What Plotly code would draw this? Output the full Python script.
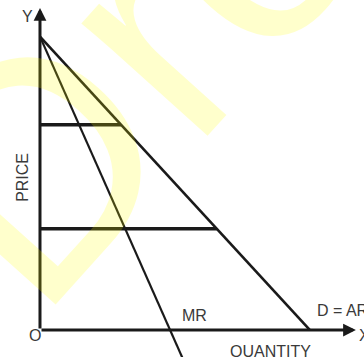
import plotly.graph_objects as go

# Demand (average revenue) curve: price intercept and quantity intercept
demand_q = [0, 10]
demand_p = [10, 0]

# Marginal revenue curve, continuing below the quantity axis
mr_q = [0, 5.3]
mr_p = [10, -1.0]

# Two price levels, each drawn from the price axis across to the demand curve
price_levels = [7.0, 3.45]

# Axis lengths (tips of the arrows)
y_axis_top = 10.98
x_axis_end = 11.7

LINE = "#1a1a1a"
TEXT = "#3a3a3a"
FONT = "Liberation Sans, Arial, sans-serif"


def demand_quantity(p):
    """Quantity on the demand line at price p."""
    (q0, q1), (p0, p1) = demand_q, demand_p
    return q0 + (p - p0) * (q1 - q0) / (p1 - p0)


fig = go.Figure()

# Horizontal price lines
for p in price_levels:
    fig.add_trace(go.Scatter(
        x=[0, demand_quantity(p)], y=[p, p], mode="lines",
        line=dict(color=LINE, width=3.5), hoverinfo="skip", showlegend=False))

# Demand = AR
fig.add_trace(go.Scatter(
    x=demand_q, y=demand_p, mode="lines",
    line=dict(color=LINE, width=2.6), hoverinfo="skip", showlegend=False))

# MR
fig.add_trace(go.Scatter(
    x=mr_q, y=mr_p, mode="lines",
    line=dict(color=LINE, width=2.2), hoverinfo="skip", showlegend=False))

annotations = []

# Axes drawn as arrows from the origin
for tip_x, tip_y in [(0, y_axis_top), (x_axis_end, 0)]:
    annotations.append(dict(
        x=tip_x, y=tip_y, ax=0, ay=0, xref="x", yref="y", axref="x", ayref="y",
        text="", showarrow=True, arrowhead=2, arrowsize=0.85, arrowwidth=3,
        arrowcolor=LINE))

def label(text, x, y, xanchor="center", angle=0):
    annotations.append(dict(
        x=x, y=y, xref="x", yref="y", text=text, showarrow=False,
        xanchor=xanchor, yanchor="middle", textangle=angle,
        font=dict(family=FONT, size=16, color=TEXT)))

label("Y", -0.48, 10.7)
label("O", -0.19, -0.2)
label("X", 11.74, -0.2, xanchor="left")
label("D = AR", 10.19, 0.66, xanchor="left")
label("MR", 5.74, 0.48)
label("QUANTITY", 8.52, -0.72)
label("PRICE", -0.63, 5.22, angle=-90)

# Diagonal watermark over the chart
annotations.append(dict(
    x=1.219, y=1.816, xref="paper", yref="paper", text="Dronstudy",
    showarrow=False, textangle=-48, xanchor="center", yanchor="middle",
    font=dict(family=FONT, size=320, color="rgba(255,255,0,0.2)")))

fig.update_layout(
    width=364, height=357,
    margin=dict(l=0, r=0, t=0, b=0),
    paper_bgcolor="white", plot_bgcolor="white",
    xaxis=dict(range=[-1.481, 12.0], visible=False, fixedrange=True),
    yaxis=dict(range=[-0.92, 11.25], visible=False, fixedrange=True),
    annotations=annotations,
    showlegend=False,
)

fig.write_html("out.html")
